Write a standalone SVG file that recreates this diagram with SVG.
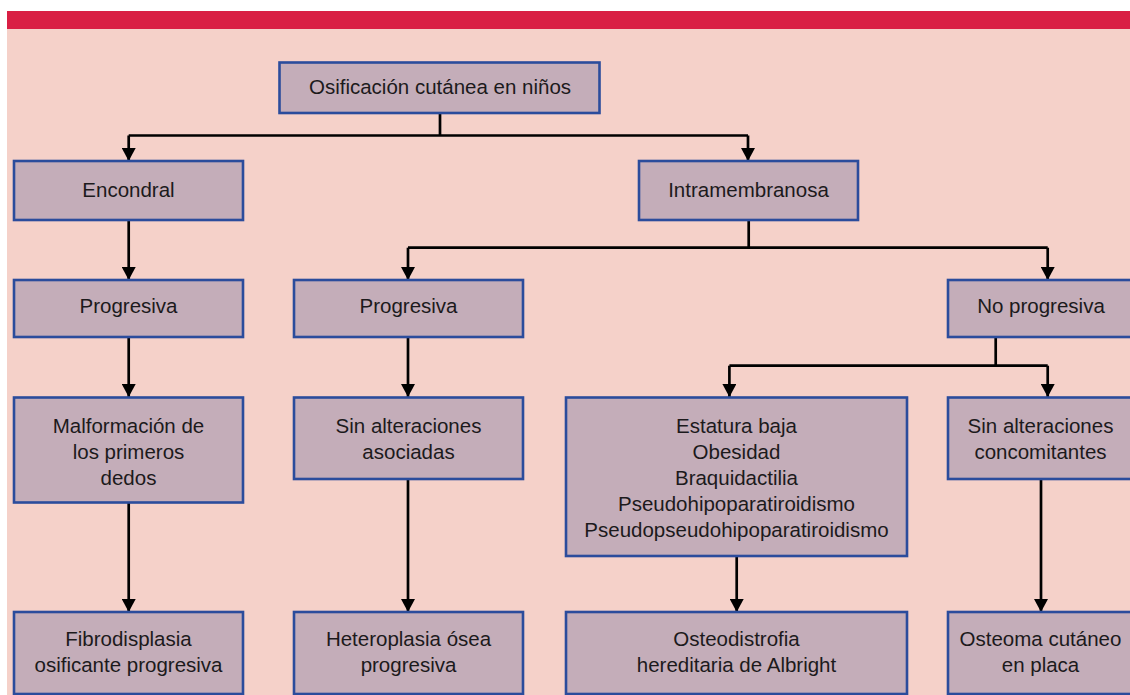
<svg xmlns="http://www.w3.org/2000/svg" width="1130" height="695" viewBox="0 0 1130 695">
<style>
.box{fill:#c4adb9;stroke:#2b4c9c;stroke-width:2.6}
.t{font-family:"Liberation Sans",Arial,sans-serif;font-size:20.5px;fill:#1c1a1c;text-anchor:middle}
.c{fill:none;stroke:#000;stroke-width:2.7}
</style>
<defs>
<marker id="ah" markerUnits="userSpaceOnUse" markerWidth="13" markerHeight="14" viewBox="0 0 13 14" refX="13" refY="7" orient="auto">
<path d="M0,0 L13,7 L0,14 z" fill="#000"/>
</marker>
</defs>
<rect x="0" y="0" width="1130" height="695" fill="#ffffff"/>
<rect x="7" y="29" width="1123" height="666" fill="#f5d1c9"/>
<rect x="7" y="11" width="1123" height="18" fill="#d91f44"/>

<g id="connectors">
<path class="c" d="M440,113 V135.5"/>
<path class="c" d="M128.7,135.5 H748 M128.7,135.5 V161" marker-end="url(#ah)"/>
<path class="c" d="M748,135.5 V161" marker-end="url(#ah)"/>
<path class="c" d="M128.7,220 V280" marker-end="url(#ah)"/>
<path class="c" d="M748.7,220 V247.7"/>
<path class="c" d="M408,247.7 H1047.7"/>
<path class="c" d="M408,247.7 V280" marker-end="url(#ah)"/>
<path class="c" d="M1047.7,247.7 V280" marker-end="url(#ah)"/>
<path class="c" d="M128.7,337 V397" marker-end="url(#ah)"/>
<path class="c" d="M408,337 V397" marker-end="url(#ah)"/>
<path class="c" d="M995.7,337 V365.7"/>
<path class="c" d="M729.4,365.7 H1047.7"/>
<path class="c" d="M729.4,365.7 V397" marker-end="url(#ah)"/>
<path class="c" d="M1047.7,365.7 V397" marker-end="url(#ah)"/>
<path class="c" d="M128.7,503 V612" marker-end="url(#ah)"/>
<path class="c" d="M408,479 V612" marker-end="url(#ah)"/>
<path class="c" d="M736.7,556 V612" marker-end="url(#ah)"/>
<path class="c" d="M1041,479 V612" marker-end="url(#ah)"/>
</g>

<g id="n-root"><rect class="box" x="279.5" y="62.5" width="320" height="50.5"/><text class="t" x="440" y="93.5">Osificación cutánea en niños</text></g>

<g id="n-encondral"><rect class="box" x="14" y="161" width="229" height="59"/><text class="t" x="128.5" y="197">Encondral</text></g>
<g id="n-intramembranosa"><rect class="box" x="639" y="161" width="219" height="59"/><text class="t" x="748.5" y="197">Intramembranosa</text></g>

<g id="n-progresiva1"><rect class="box" x="14" y="280" width="229" height="57"/><text class="t" x="128.5" y="313">Progresiva</text></g>
<g id="n-progresiva2"><rect class="box" x="294" y="280" width="229" height="57"/><text class="t" x="408.5" y="313">Progresiva</text></g>
<g id="n-noprogresiva"><rect class="box" x="948" y="280" width="190" height="57"/><text class="t" x="1041" y="313">No progresiva</text></g>

<g id="n-malformacion"><rect class="box" x="14" y="397.5" width="229" height="105"/><text class="t" x="128.5" y="433"><tspan x="128.5">Malformación de</tspan><tspan x="128.5" dy="26">los primeros</tspan><tspan x="128.5" dy="26">dedos</tspan></text></g>
<g id="n-sinalt-asoc"><rect class="box" x="294" y="397.5" width="229" height="81.5"/><text class="t" x="408.5" y="433"><tspan x="408.5">Sin alteraciones</tspan><tspan x="408.5" dy="26">asociadas</tspan></text></g>
<g id="n-estatura"><rect class="box" x="566" y="397.5" width="341" height="158.5"/><text class="t" x="736.5" y="433"><tspan x="736.5">Estatura baja</tspan><tspan x="736.5" dy="26">Obesidad</tspan><tspan x="736.5" dy="26">Braquidactilia</tspan><tspan x="736.5" dy="26">Pseudohipoparatiroidismo</tspan><tspan x="736.5" dy="26">Pseudopseudohipoparatiroidismo</tspan></text></g>
<g id="n-sinalt-conc"><rect class="box" x="948" y="397.5" width="190" height="81.5"/><text class="t" x="1040.5" y="433"><tspan x="1040.5">Sin alteraciones</tspan><tspan x="1040.5" dy="26">concomitantes</tspan></text></g>

<g id="n-fibrodisplasia"><rect class="box" x="14" y="612" width="229" height="82"/><text class="t" x="128.5" y="646"><tspan x="128.5">Fibrodisplasia</tspan><tspan x="128.5" dy="26">osificante progresiva</tspan></text></g>
<g id="n-heteroplasia"><rect class="box" x="294" y="612" width="229" height="82"/><text class="t" x="408.5" y="646"><tspan x="408.5">Heteroplasia ósea</tspan><tspan x="408.5" dy="26">progresiva</tspan></text></g>
<g id="n-osteodistrofia"><rect class="box" x="566" y="612" width="341" height="82"/><text class="t" x="736.5" y="646"><tspan x="736.5">Osteodistrofia</tspan><tspan x="736.5" dy="26">hereditaria de Albright</tspan></text></g>
<g id="n-osteoma"><rect class="box" x="948" y="612" width="190" height="82"/><text class="t" x="1040.5" y="646"><tspan x="1040.5">Osteoma cutáneo</tspan><tspan x="1040.5" dy="26">en placa</tspan></text></g>
</svg>
